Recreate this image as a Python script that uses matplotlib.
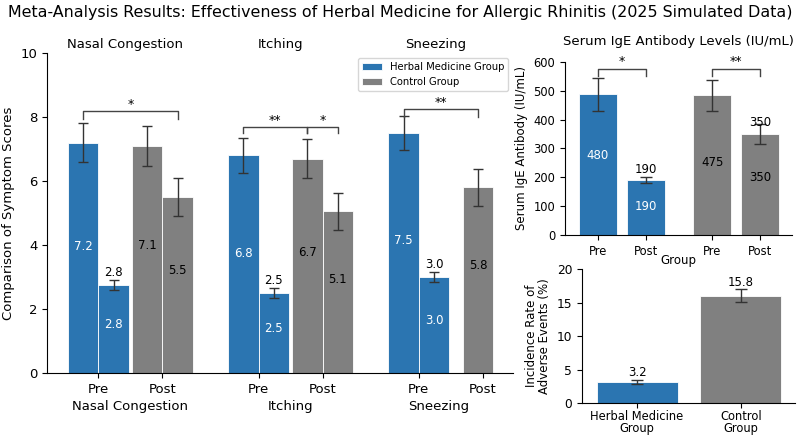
import numpy as np
import matplotlib
matplotlib.use("Agg")
import matplotlib.pyplot as plt
import matplotlib.transforms as mtransforms

# ---- data ----
symptoms = ["Nasal Congestion", "Itching", "Sneezing"]
herbal_pre = [7.2, 6.8, 7.5]
herbal_post = [2.75, 2.5, 3.0]
control_pre = [7.1, 6.7, np.nan]
control_post = [5.5, 5.06, 5.8]
herbal_pre_err = [0.6, 0.55, 0.53]
herbal_post_err = [0.17, 0.17, 0.17]
control_pre_err = [0.62, 0.6, np.nan]
control_post_err = [0.6, 0.58, 0.58]

ige_phase = ["Pre", "Post"]
ige_herbal = [488, 190]
ige_control = [484, 350]
ige_herbal_err = [57, 10]
ige_control_err = [55, 36]
ige_herbal_lbl = ["480", "190"]
ige_control_lbl = ["475", "350"]

ae_groups = ["Herbal Medicine\nGroup", "Control\nGroup"]
ae_rate = [3.14, 16.05]
ae_err = [0.3, 0.95]
ae_lbl = ["3.2", "15.8"]

BLUE = "#2b75b1"
GRAY = "#808080"
ECOL = "#333333"

fig = plt.figure(figsize=(8, 4.36), dpi=100)
fig.text(0.5, 0.972, "Meta-Analysis Results: Effectiveness of Herbal Medicine for Allergic Rhinitis (2025 Simulated Data)",
         ha="center", va="center", fontsize=11.4)

# ---- left: symptom scores ----
ax = fig.add_axes([0.059, 0.1445, 0.5825, 0.734])
w = 0.19
xs = np.arange(len(symptoms))
pre_t = xs - 0.2
post_t = xs + 0.2
ekw = dict(ecolor=ECOL, capsize=3.5, elinewidth=1, capthick=1)

x_hp = pre_t - w / 2
x_hq = pre_t + w / 2
x_cp = post_t - w / 2
x_cq = post_t + w / 2
# sneezing has only one control bar, centred near the Post tick
has_cpre = ~np.isnan(np.array(control_pre))
x_cq = np.where(has_cpre, x_cq, post_t - 0.03)

ax.bar(x_hp, herbal_pre, w, yerr=herbal_pre_err, color=BLUE, edgecolor="white", lw=0.6,
       error_kw=ekw, label="Herbal Medicine Group")
ax.bar(x_hq, herbal_post, w, yerr=herbal_post_err, color=BLUE, edgecolor="white", lw=0.6, error_kw=ekw)
ax.bar(x_cp[has_cpre], np.array(control_pre)[has_cpre], w, yerr=np.array(control_pre_err)[has_cpre],
       color=GRAY, edgecolor="white", lw=0.6, error_kw=ekw, label="Control Group")
ax.bar(x_cq, control_post, w, yerr=control_post_err, color=GRAY, edgecolor="white", lw=0.6, error_kw=ekw)

vfs = 8.5
for i in range(len(symptoms)):
    ax.text(x_hp[i], herbal_pre[i] * 0.55, f"{herbal_pre[i]:.1f}", ha="center", va="center", color="white", fontsize=vfs)
    ax.text(x_hq[i], herbal_post[i] * 0.55, f"{herbal_post[i]:.1f}", ha="center", va="center", color="white", fontsize=vfs)
    ax.text(x_hq[i], herbal_post[i] + herbal_post_err[i] + 0.02, f"{herbal_post[i]:.1f}", ha="center", va="bottom",
            color="black", fontsize=vfs)
    if has_cpre[i]:
        ax.text(x_cp[i], control_pre[i] * 0.56, f"{control_pre[i]:.1f}", ha="center", va="center", color="black", fontsize=vfs)
    ax.text(x_cq[i], control_post[i] * 0.58, f"{control_post[i]:.1f}", ha="center", va="center", color="black", fontsize=vfs)


def bracket(a, x1, x2, y, drop, txt, fs=9, dy=0.0):
    a.plot([x1, x1, x2, x2], [y - drop, y, y, y - drop], color="#444444", lw=1, clip_on=False)
    a.text((x1 + x2) / 2, y + dy, txt, ha="center", va="bottom", fontsize=fs, clip_on=False)


bracket(ax, x_hp[0], x_cq[0], 8.2, 0.25, "*")
bracket(ax, x_hp[1], x_cp[1], 7.7, 0.2, "**")
bracket(ax, x_cp[1], x_cq[1], 7.7, 0.2, "*")
bracket(ax, x_hp[2], x_cq[2], 8.25, 0.25, "**")

ax.set_xticks(np.concatenate([pre_t, post_t]))
ax.set_xticklabels(["Pre"] * 3 + ["Post"] * 3, fontsize=9.5)
ax.set_xlim(-0.52, 2.39)
ax.set_ylim(0, 10)
ax.set_yticks([0, 2, 4, 6, 8, 10])
ax.tick_params(axis="y", labelsize=9.5)
ax.set_ylabel("Comparison of Symptom Scores", fontsize=9.5)
ax.spines[["top", "right"]].set_visible(False)

trans = mtransforms.blended_transform_factory(ax.transData, ax.transAxes)
for i, name in enumerate(symptoms):
    centres = [x_hp[i], x_hq[i], x_cq[i]] + ([x_cp[i]] if has_cpre[i] else [])
    ax.text(np.mean(centres), -0.106, name, transform=trans, ha="center", va="center", fontsize=9.5)
    ax.text((i + 0.5) / 3, 1.028, name, transform=ax.transAxes, ha="center", va="center", fontsize=9.5)
ax.legend(loc="upper right", fontsize=7.2, borderaxespad=0.5, handlelength=2.0)

# ---- top right: IgE ----
ax2 = fig.add_axes([0.706, 0.461, 0.284, 0.397])
gx = np.arange(2)
off = 0.21
bw = 0.335
ekw2 = dict(ecolor=ECOL, capsize=4, elinewidth=1, capthick=1)
ax2.bar(gx[0] + np.array([-off, off]), ige_herbal, bw, yerr=ige_herbal_err, color=BLUE,
        edgecolor="white", lw=0.6, error_kw=ekw2)
ax2.bar(gx[1] + np.array([-off, off]), ige_control, bw, yerr=ige_control_err, color=GRAY,
        edgecolor="white", lw=0.6, error_kw=ekw2)
ax2.text(gx[0] - off, 277, ige_herbal_lbl[0], ha="center", va="center", color="white", fontsize=vfs)
ax2.text(gx[0] + off, 100, ige_herbal_lbl[1], ha="center", va="center", color="white", fontsize=vfs)
ax2.text(gx[0] + off, ige_herbal[1] + ige_herbal_err[1] + 3, ige_herbal_lbl[1], ha="center", va="bottom", fontsize=vfs)
ax2.text(gx[1] - off, 253, ige_control_lbl[0], ha="center", va="center", color="black", fontsize=vfs)
ax2.text(gx[1] + off, 201, ige_control_lbl[1], ha="center", va="center", color="black", fontsize=vfs)
ax2.text(gx[1] + off, 368, ige_control_lbl[1], ha="center", va="bottom", fontsize=vfs)
bracket(ax2, gx[0] - off, gx[0] + off, 576, 24, "*", fs=9, dy=2)
bracket(ax2, gx[1] - off, gx[1] + off, 576, 24, "**", fs=9, dy=2)
ax2.set_xticks(np.concatenate([gx[0] + np.array([-off, off]), gx[1] + np.array([-off, off])]))
ax2.set_xticklabels(ige_phase * 2, fontsize=8.3)
ax2.set_xlim(-0.5, 1.49)
ax2.set_ylim(0, 600)
ax2.tick_params(axis="y", labelsize=8.3)
ax2.set_ylabel("Serum IgE Antibody (IU/mL)", fontsize=8.5)
ax2.set_xlabel("Group", fontsize=8.5, labelpad=-2.5)
ax2.text(0.5, 1.116, "Serum IgE Antibody Levels (IU/mL)", transform=ax2.transAxes, ha="center", va="center", fontsize=9.5)
ax2.spines[["top", "right"]].set_visible(False)

# ---- bottom right: adverse events ----
ax3 = fig.add_axes([0.7275, 0.0757, 0.266, 0.307])
ax3.bar(np.arange(2), ae_rate, 0.78, yerr=ae_err, color=[BLUE, GRAY], edgecolor="white", lw=0.6, error_kw=ekw2)
for i in range(2):
    ax3.text(i, ae_rate[i] + ae_err[i] + 0.1, ae_lbl[i], ha="center", va="bottom", fontsize=vfs)
ax3.set_xticks(np.arange(2))
ax3.set_xticklabels(ae_groups, fontsize=8.3, linespacing=0.95)
ax3.tick_params(axis="x", pad=1.5)
ax3.set_xlim(-0.53, 1.52)
ax3.set_ylim(0, 20)
ax3.set_yticks([0, 5, 10, 15, 20])
ax3.tick_params(axis="y", labelsize=8.8)
ax3.set_ylabel("Incidence Rate of\nAdverse Events (%)", fontsize=8.5, linespacing=1.0)
ax3.spines[["top", "right"]].set_visible(False)

fig.savefig("out.png", dpi=100)
